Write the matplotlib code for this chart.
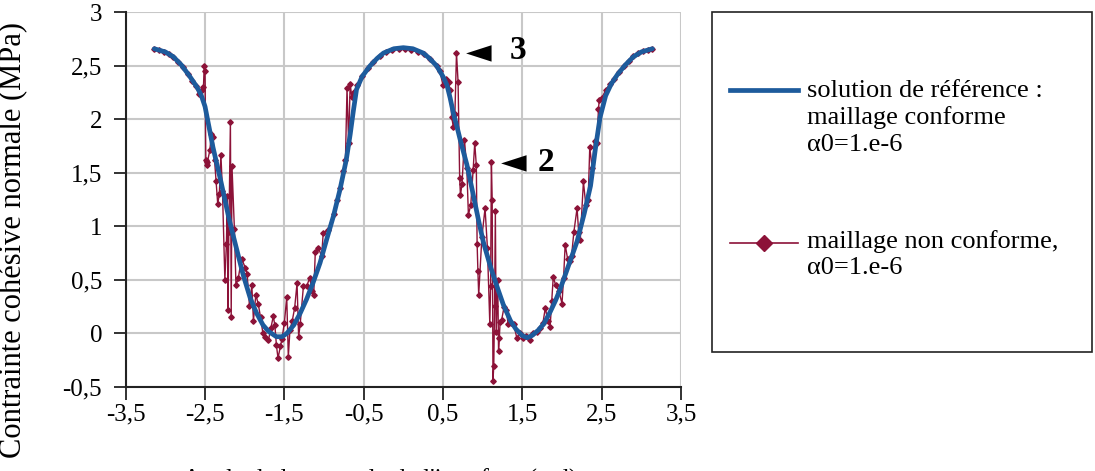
import matplotlib.pyplot as plt
from matplotlib.lines import Line2D
from matplotlib.patches import Rectangle

# reference solution (conforming mesh)
ref_x = [-3.14, -3.0, -2.9, -2.8, -2.7, -2.6, -2.55, -2.5, -2.45, -2.4, -2.3, -2.2,
         -2.14, -2.02, -1.93, -1.85, -1.77, -1.7, -1.6, -1.53, -1.47, -1.38, -1.3,
         -1.22, -1.14, -1.05, -0.97, -0.88, -0.8, -0.72, -0.67, -0.63, -0.59, -0.52,
         -0.42, -0.33, -0.25, -0.12, 0.0, 0.12, 0.25, 0.33, 0.42, 0.5, 0.55, 0.59,
         0.63, 0.68, 0.72, 0.8, 0.88, 0.95, 1.01, 1.1, 1.18, 1.26, 1.35, 1.42, 1.5,
         1.56, 1.62, 1.7, 1.77, 1.85, 1.92, 1.98, 2.08, 2.19, 2.28, 2.36, 2.42, 2.48,
         2.55, 2.62, 2.7, 2.8, 2.9, 3.0, 3.14]
ref_y = [2.66, 2.63, 2.585, 2.51, 2.41, 2.30, 2.23, 2.12, 1.93, 1.74, 1.42, 1.08,
         0.90, 0.55, 0.33, 0.19, 0.08, 0.02, -0.03, -0.03, 0.0, 0.08, 0.19,
         0.32, 0.47, 0.66, 0.87, 1.10, 1.34, 1.62, 1.86, 2.08, 2.28, 2.40,
         2.50, 2.57, 2.62, 2.66, 2.67, 2.66, 2.62, 2.57, 2.50, 2.40, 2.32, 2.20,
         2.06, 1.92, 1.80, 1.58, 1.30, 1.05, 0.85, 0.62, 0.44, 0.27, 0.12, 0.04, -0.02,
         -0.04, -0.02, 0.03, 0.09, 0.20, 0.31, 0.42, 0.63, 0.86, 1.12, 1.38, 1.72, 2.02,
         2.22, 2.33, 2.42, 2.51, 2.585, 2.63, 2.66]

# non-conforming mesh
nc_x = [-3.14, -3.08, -3.02, -2.96, -2.9, -2.84, -2.78, -2.72, -2.66, -2.62, -2.58, -2.54,
        -2.52, -2.51, -2.5, -2.49, -2.48, -2.47, -2.44, -2.42, -2.4, -2.38, -2.36, -2.34,
        -2.32, -2.3, -2.28, -2.25, -2.23, -2.22, -2.21, -2.2, -2.18, -2.17, -2.16, -2.13,
        -2.11, -2.08, -2.04, -1.99, -1.97, -1.94, -1.91, -1.89, -1.86, -1.83, -1.8, -1.77,
        -1.74, -1.7, -1.67, -1.64, -1.62, -1.6, -1.58, -1.55, -1.53, -1.5, -1.47, -1.45,
        -1.43, -1.4, -1.37, -1.34, -1.32, -1.3, -1.26, -1.22, -1.18, -1.15, -1.13, -1.11,
        -1.07, -1.03, -1.01, -0.95, -0.88, -0.84, -0.8, -0.76, -0.73, -0.71, -0.69, -0.67,
        -0.65, -0.62, -0.58, -0.52, -0.45, -0.38, -0.3, -0.22, -0.14, -0.06, 0.02, 0.1,
        0.18, 0.26, 0.34, 0.42, 0.46, 0.5, 0.54, 0.57, 0.59, 0.61, 0.63, 0.65, 0.67, 0.69,
        0.71, 0.72, 0.74, 0.77, 0.8, 0.82, 0.85, 0.88, 0.9, 0.92, 0.93, 0.94, 0.95, 0.99,
        1.03, 1.06, 1.09, 1.1, 1.11, 1.12, 1.13, 1.14, 1.15, 1.16, 1.17, 1.19, 1.2, 1.21,
        1.22, 1.24, 1.27, 1.3, 1.32, 1.36, 1.39, 1.43, 1.47, 1.51, 1.55, 1.6, 1.64, 1.68,
        1.72, 1.76, 1.79, 1.82, 1.85, 1.87, 1.89, 1.92, 1.96, 2.0, 2.02, 2.04, 2.07, 2.1,
        2.12, 2.15, 2.19, 2.21, 2.23, 2.27, 2.3, 2.33, 2.35, 2.38, 2.41, 2.44, 2.46, 2.47,
        2.5, 2.55, 2.6, 2.66, 2.72, 2.78, 2.84, 2.9, 2.96, 3.02, 3.08, 3.14]
nc_y = [2.66, 2.65, 2.63, 2.61, 2.58, 2.54, 2.49, 2.42, 2.36, 2.31, 2.24, 2.27,
        2.30, 2.50, 2.45, 1.62, 1.57, 1.60, 1.71, 1.86, 1.84, 1.62, 1.42, 1.21,
        1.30, 1.67, 1.33, 0.50, 0.84, 1.28, 0.22, 0.95, 1.98, 0.15, 1.56, 0.98,
        0.45, 0.52, 0.70, 0.61, 0.56, 0.26, 0.45, 0.12, 0.36, 0.28, 0.15, 0.00,
        -0.03, -0.06, 0.05, 0.16, 0.08, -0.11, -0.23, -0.12, -0.05, 0.10, 0.34, -0.22,
        0.03, 0.12, 0.24, 0.47, -0.03, 0.09, 0.44, 0.44, 0.52, 0.40, 0.36, 0.76,
        0.80, 0.72, 0.94, 0.97, 1.12, 1.25, 1.36, 1.52, 1.62, 2.29, 1.78, 2.33,
        2.21, 2.26, 2.32, 2.41, 2.48, 2.54, 2.59, 2.63, 2.65, 2.66, 2.66, 2.65,
        2.63, 2.61, 2.56, 2.50, 2.45, 2.32, 2.38, 2.35, 2.27, 2.02, 1.93, 2.05, 2.62, 2.35,
        1.45, 1.29, 1.40, 1.81, 1.55, 1.11, 1.20, 1.53, 1.78, 1.57, 0.84, 0.58, 0.36, 0.90,
        1.17, 0.80, 0.09, 0.44, 1.60, 1.25, -0.44, -0.30, 0.26, 1.14, 0.01, 0.50, -0.16, -0.04,
        0.11, 0.13, 0.25, 0.22, 0.09, 0.10, 0.09, -0.04, 0.00, -0.04, -0.02, -0.06, 0.00, 0.01,
        0.05, 0.10, 0.24, 0.12, 0.06, 0.30, 0.53, 0.45, 0.40, 0.28, 0.52, 0.83, 0.70, 0.68,
        0.72, 0.95, 1.17, 0.95, 0.87, 1.42, 1.20, 1.25, 1.74, 1.55, 1.80, 1.78, 2.10, 2.18,
        2.20, 2.27, 2.33, 2.38, 2.44, 2.50, 2.55, 2.59, 2.62, 2.64, 2.65, 2.66]

xticks = [-3.5, -2.5, -1.5, -0.5, 0.5, 1.5, 2.5, 3.5]
yticks = [-0.5, 0, 0.5, 1, 1.5, 2, 2.5, 3]

blue = "#1d5b9c"
red = "#8c1238"
serif = "Liberation Serif"

fig = plt.figure(figsize=(10.95, 4.71), dpi=100)
ax = fig.add_axes([0.1148, 0.1783, 0.5071, 0.7955])

ax.plot(nc_x, nc_y, color=red, lw=1.0, marker="D", ms=2.8, zorder=3)
ax.plot(ref_x, ref_y, color=blue, lw=3.4, zorder=4, solid_capstyle="round")

ax.set_xlim(-3.5, 3.5)
ax.set_ylim(-0.5, 3)
ax.set_xticks(xticks)
ax.set_yticks(yticks)
ax.set_xticklabels([str(v).replace(".", ",") for v in xticks], family=serif, fontsize=18)
ax.set_yticklabels([("%g" % v).replace(".", ",") for v in yticks], family=serif, fontsize=18)
ax.tick_params(axis="both", direction="out", length=9, width=1.3, color="#222222")
ax.tick_params(axis="y", pad=8)
ax.tick_params(axis="x", pad=3)
ax.grid(True, color="#c8c8c8", lw=1.5)
ax.set_axisbelow(True)
for s in ["top", "right"]:
    ax.spines[s].set_visible(False)
for s in ["left", "bottom"]:
    ax.spines[s].set_linewidth(1.5)
    ax.spines[s].set_color("#222222")

# annotations 3 and 2
ax.text(0.79, 2.62, "\u25c4", family="DejaVu Sans", fontsize=24, ha="left", va="center")
ax.text(1.34, 2.64, "3", family=serif, fontsize=24, fontweight="bold", ha="left", va="center")
ax.text(1.23, 1.59, "\u25c4", family="DejaVu Sans", fontsize=24, ha="left", va="center")
ax.text(1.69, 1.60, "2", family=serif, fontsize=24, fontweight="bold", ha="left", va="center")

fig.text(0.012, 0.49, "Contrainte cohésive normale (MPa)", rotation=90, family=serif,
         fontsize=22, ha="center", va="center")
fig.text(0.347, -0.034, "Angle de la normale de l'interface (rad)", family=serif,
         fontsize=18, ha="center", va="baseline")

# legend box drawn by hand
W, H = 1095.0, 471.0
fig.patches.append(Rectangle((712 / W, 1 - 352 / H), 380 / W, 340 / H, transform=fig.transFigure,
                             fill=False, ec="#222222", lw=1.2))
fig.lines.append(Line2D([730 / W, 798 / W], [1 - 90 / H, 1 - 90 / H], transform=fig.transFigure,
                        color=blue, lw=3.4))
fig.lines.append(Line2D([730 / W, 798 / W], [1 - 243 / H, 1 - 243 / H], transform=fig.transFigure,
                        color=red, lw=1.2))
fig.lines.append(Line2D([764 / W], [1 - 243 / H], transform=fig.transFigure,
                        color=red, marker="D", ms=8.5, lw=0))
fig.text(807 / W, 1 - 80 / H, "solution de référence :\nmaillage conforme\nα0=1.e-6",
         family=serif, fontsize=19, ha="left", va="top", linespacing=1.25)
fig.text(807 / W, 1 - 230 / H, "maillage non conforme,\nα0=1.e-6",
         family=serif, fontsize=19, ha="left", va="top", linespacing=1.25)

fig.savefig("out.png", dpi=100)
